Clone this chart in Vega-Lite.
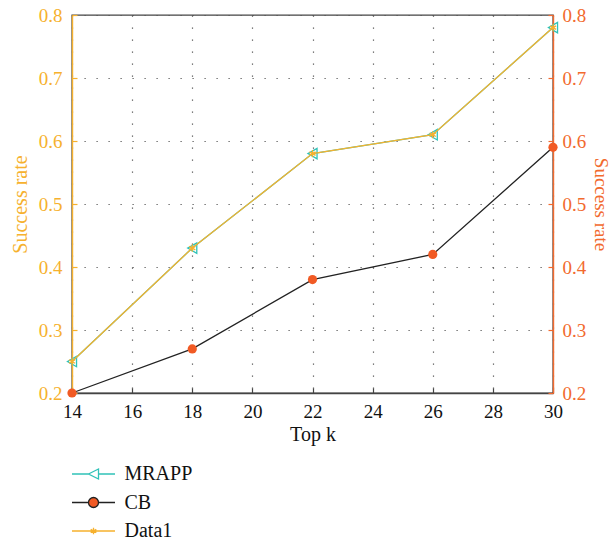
{
  "$schema": "https://vega.github.io/schema/vega-lite/v6.json",
  "width": 481,
  "height": 378,
  "autosize": {"type": "none"},
  "padding": {"left": 72, "top": 15, "right": 58, "bottom": 148},
  "background": "white",
  "config": {
    "font": "Liberation Serif",
    "view": {"stroke": "#444444", "strokeWidth": 1.4},
    "axis": {
      "labelFont": "Liberation Serif",
      "titleFont": "Liberation Serif",
      "labelFontSize": 19,
      "titleFontSize": 20,
      "titleFontWeight": "normal",
      "labelFlush": false,
      "labelOverlap": false,
      "tickSize": -5,
      "tickWidth": 1.2,
      "domainWidth": 1.4,
      "gridDash": [1.2, 10.8],
      "gridColor": "#555555",
      "gridWidth": 1.2,
      "gridOpacity": 1
    },
    "legend": {
      "labelFont": "Liberation Serif",
      "labelFontSize": 20,
      "labelColor": "#111111"
    }
  },
  "data": {
    "values": [
      {"k": 14, "series": "MRAPP", "v": 0.25},
      {"k": 18, "series": "MRAPP", "v": 0.43},
      {"k": 22, "series": "MRAPP", "v": 0.58},
      {"k": 26, "series": "MRAPP", "v": 0.61},
      {"k": 30, "series": "MRAPP", "v": 0.78},
      {"k": 14, "series": "Data1", "v": 0.25},
      {"k": 18, "series": "Data1", "v": 0.43},
      {"k": 22, "series": "Data1", "v": 0.58},
      {"k": 26, "series": "Data1", "v": 0.61},
      {"k": 30, "series": "Data1", "v": 0.78},
      {"k": 14, "series": "CB", "v": 0.2},
      {"k": 18, "series": "CB", "v": 0.27},
      {"k": 22, "series": "CB", "v": 0.38},
      {"k": 26, "series": "CB", "v": 0.42},
      {"k": 30, "series": "CB", "v": 0.59}
    ]
  },
  "encoding": {
    "x": {
      "field": "k",
      "type": "quantitative",
      "scale": {"domain": [14, 30], "nice": false, "zero": false},
      "axis": {
        "title": "Top k",
        "values": [14, 16, 18, 20, 22, 24, 26, 28, 30],
        "labelFont": "Liberation Serif",
        "titleFont": "Liberation Serif",
        "domainColor": "#444444",
        "tickColor": "#444444",
        "labelColor": "#111111",
        "titleColor": "#111111",
        "labelPadding": 14,
        "titlePadding": 3,
        "grid": true
      }
    }
  },
  "layer": [
    {
      "encoding": {
        "y": {
          "field": "v",
          "type": "quantitative",
          "scale": {"domain": [0.2, 0.8], "nice": false, "zero": false},
          "axis": {
            "orient": "left",
            "title": "Success rate",
            "labelFont": "Liberation Serif",
            "titleFont": "Liberation Serif",
            "values": [0.2, 0.3, 0.4, 0.5, 0.6, 0.7, 0.8],
            "format": ".1f",
            "domainColor": "#F6B12E",
            "tickColor": "#F6B12E",
            "labelColor": "#F6B12E",
            "titleColor": "#F6B12E",
            "labelPadding": 15,
            "titlePadding": 8,
            "grid": true
          }
        }
      },
      "layer": [
        {
          "transform": [{"filter": "datum.series === 'MRAPP'"}],
          "mark": {"type": "line", "strokeWidth": 1.3},
          "encoding": {
            "color": {
              "field": "series",
              "type": "nominal",
              "scale": {"domain": ["MRAPP", "CB", "Data1"], "range": ["#30C2B8", "#222222", "#F6B12E"]},
              "legend": {
                "title": null,
                "orient": "none",
                "legendX": 10.5,
                "legendY": 448,
                "padding": 0,
                "rowPadding": 7.5,
                "symbolSize": 400,
                "labelOffset": 20,
                "labelFont": "Liberation Serif",
                "labelFontSize": 20,
                "symbolStrokeWidth": 1.3,
                "encode": {
                  "symbols": {
                    "update": {
                      "shape": {"signal": "datum.value === 'MRAPP' ? 'M-2.15,0H-0.5M0.5,0H2.15M-0.5,0L0.5,-0.5L0.5,0.5Z' : (datum.value === 'CB' ? 'M-2.15,0H-0.5M0.5,0H2.15M0.5,0A0.5,0.5 0 1,1 -0.5,0A0.5,0.5 0 1,1 0.5,0Z' : 'M-2.15,0H2.15M0,-0.32V0.32M-0.28,-0.16L0.28,0.16M-0.28,0.16L0.28,-0.16')"},
                      "fill": {"signal": "datum.value === 'MRAPP' ? 'white' : (datum.value === 'CB' ? '#F15A24' : 'transparent')"},
                      "stroke": {"signal": "datum.value === 'MRAPP' ? '#30C2B8' : (datum.value === 'CB' ? '#333333' : '#F6B12E')"},
                      "strokeWidth": {"value": 1.3},
                      "opacity": {"value": 1}
                    }
                  }
                }
              }
            }
          }
        },
        {
          "transform": [{"filter": "datum.series === 'MRAPP'"}],
          "mark": {"type": "point", "shape": "triangle-left", "filled": false, "size": 110, "stroke": "#30C2B8", "strokeWidth": 1.3, "opacity": 1}
        },
        {
          "transform": [{"filter": "datum.series === 'Data1'"}],
          "mark": {"type": "line", "strokeWidth": 1.3},
          "encoding": {
            "color": {"field": "series", "type": "nominal"}
          }
        },
        {
          "transform": [{"filter": "datum.series === 'Data1'"}],
          "mark": {"type": "point", "shape": "M0,-1V1M-0.87,-0.5L0.87,0.5M-0.87,0.5L0.87,-0.5", "filled": false, "size": 50, "stroke": "#F6B12E", "strokeWidth": 1.3, "opacity": 1}
        }
      ]
    },
    {
      "encoding": {
        "y": {
          "field": "v",
          "type": "quantitative",
          "scale": {"domain": [0.2, 0.8], "nice": false, "zero": false},
          "axis": {
            "orient": "right",
            "title": "Success rate",
            "labelFont": "Liberation Serif",
            "titleFont": "Liberation Serif",
            "titleFontSize": 19,
            "values": [0.2, 0.3, 0.4, 0.5, 0.6, 0.7, 0.8],
            "format": ".1f",
            "domainColor": "#F26A2E",
            "tickColor": "#F26A2E",
            "labelColor": "#F26A2E",
            "titleColor": "#F26A2E",
            "labelPadding": 14,
            "titlePadding": 5,
            "grid": false
          }
        }
      },
      "layer": [
        {
          "transform": [{"filter": "datum.series === 'CB'"}],
          "mark": {"type": "line", "strokeWidth": 1.3},
          "encoding": {
            "color": {"field": "series", "type": "nominal"}
          }
        },
        {
          "transform": [{"filter": "datum.series === 'CB'"}],
          "mark": {"type": "point", "shape": "circle", "filled": true, "size": 85, "fill": "#F15A24", "opacity": 1}
        }
      ]
    }
  ],
  "resolve": {"scale": {"y": "independent"}, "axis": {"y": "independent"}}
}
